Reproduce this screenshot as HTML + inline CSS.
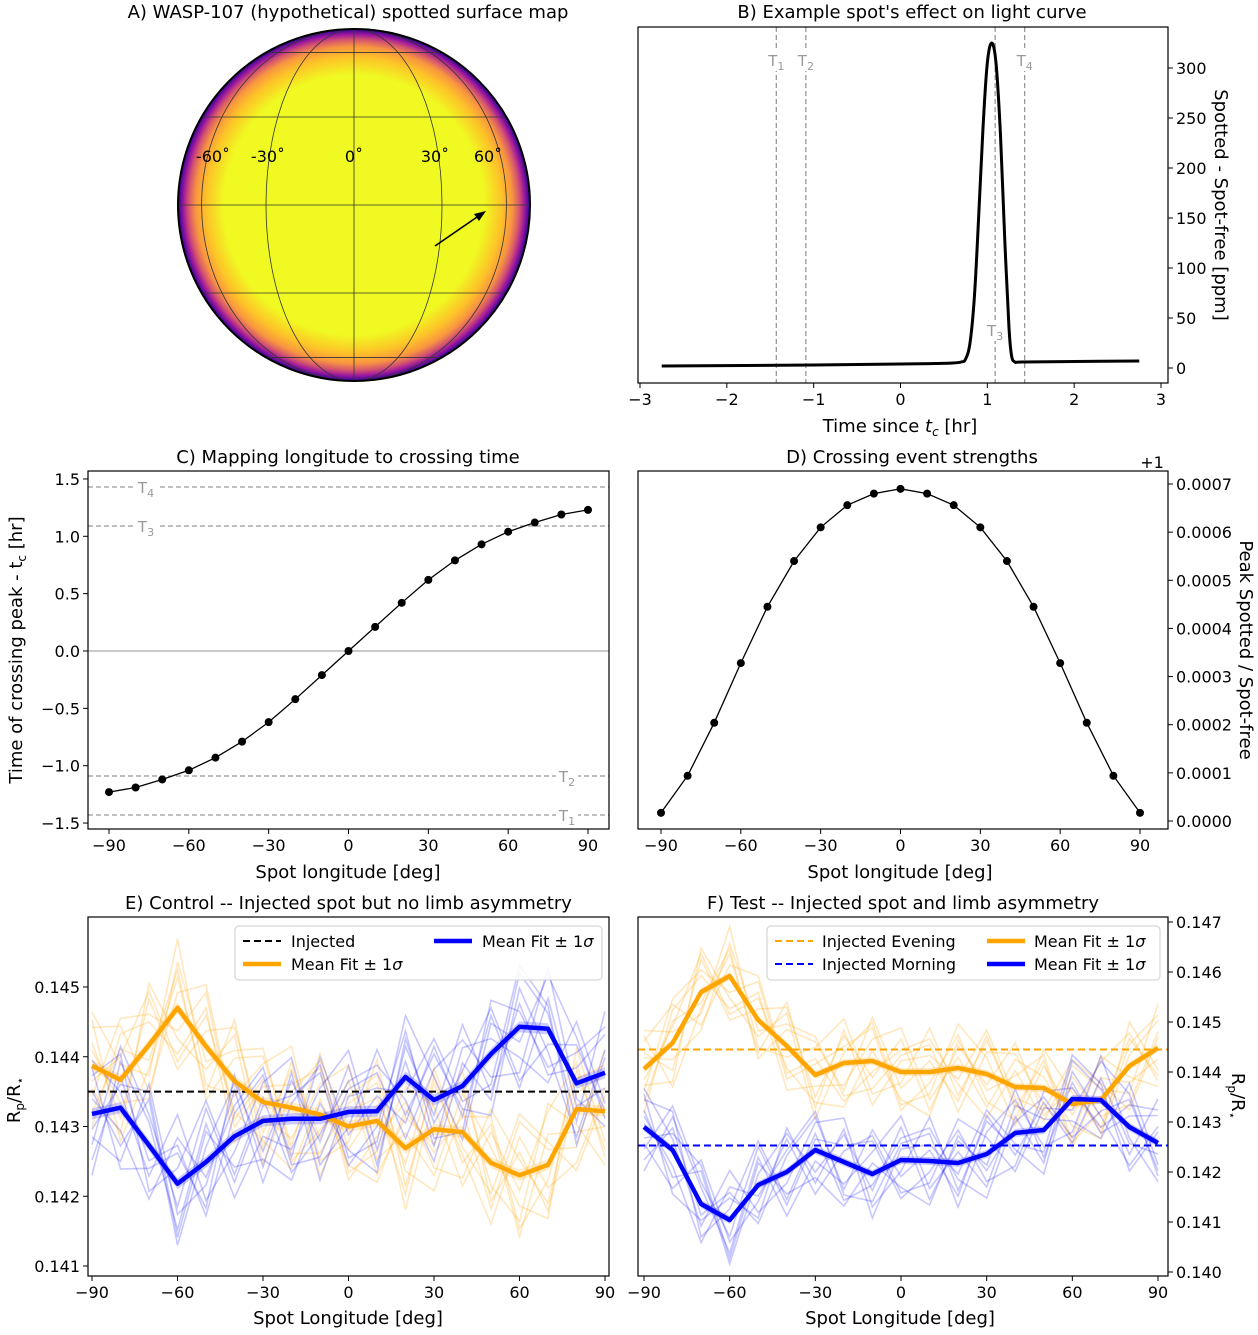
<!DOCTYPE html>
<html><head><meta charset="utf-8"><style>
body{margin:0;background:#fff}
svg text{font-family:"DejaVu Sans","Liberation Sans",sans-serif;fill:#000}
</style></head><body>
<svg id="fig" width="1258" height="1330" viewBox="0 0 1258 1330" xmlns="http://www.w3.org/2000/svg">
<defs>
<radialGradient id="limb" cx="50%" cy="50%" r="50%">
<stop offset="0" stop-color="#f0f921"/><stop offset="0.74" stop-color="#f0f921"/>
<stop offset="0.84" stop-color="#fdc328"/><stop offset="0.9" stop-color="#f89540"/>
<stop offset="0.94" stop-color="#d5546e"/><stop offset="0.97" stop-color="#9c179e"/>
<stop offset="1" stop-color="#2a0593"/></radialGradient>
<clipPath id="ce"><rect x="88" y="917" width="521" height="359"/></clipPath>
<clipPath id="cf"><rect x="638" y="917" width="530" height="359"/></clipPath>
</defs>
<g id="root"></g>
</svg>
<script>
// ---- data ----
const lons=[-90,-80,-70,-60,-50,-40,-30,-20,-10,0,10,20,30,40,50,60,70,80,90];
const bTimes=[-2.75,-1.0,0,0.4,0.6,0.7,0.75,0.8,0.85,0.9,0.95,1.0,1.05,1.1,1.15,1.2,1.25,1.28,1.32,1.4,2.0,2.75];
const bValues=[2,3,4,4.5,5,6,9,25,70,150,240,305,325,305,235,130,40,12,6,6,6.5,7];
const cValues=[-1.23,-1.19,-1.12,-1.04,-0.93,-0.79,-0.62,-0.42,-0.21,0,0.21,0.42,0.62,0.79,0.93,1.04,1.12,1.19,1.23];
const dValues=[0.17,0.94,2.04,3.28,4.45,5.4,6.1,6.56,6.8,6.9,6.8,6.56,6.1,5.4,4.45,3.28,2.04,0.94,0.17];
const eOrange=[0.14387,0.14367,0.14417,0.1447,0.14415,0.14365,0.14335,0.14327,0.14317,0.1430,0.14308,0.14269,0.14296,0.14292,0.14248,0.1423,0.14245,0.14325,0.14322];
const eBlue=[0.14318,0.14327,0.14273,0.14218,0.14249,0.14286,0.14308,0.14311,0.14311,0.14321,0.14322,0.14371,0.14338,0.14358,0.14404,0.14443,0.1444,0.14362,0.14377];
const eInjected=0.1435;
const fOrange=[0.14406,0.14458,0.1456,0.14592,0.14504,0.14452,0.14394,0.14418,0.14422,0.144,0.144,0.14408,0.14396,0.1437,0.14368,0.14336,0.14344,0.14412,0.14448];
const fBlue=[0.1429,0.14244,0.14136,0.14104,0.14174,0.142,0.14244,0.1422,0.14196,0.14224,0.14222,0.14218,0.14236,0.14278,0.14284,0.14346,0.14344,0.1429,0.14258];
const fEvening=0.14445, fMorning=0.14253;
const offsets=[
[3,-5,6,-8,2,7,-4,5,-3,6,-7,4,-2,8,-5,3,-6,2,5],
[-6,4,-2,5,-7,3,6,-5,8,-3,2,-6,7,-4,5,-8,4,-3,-2],
[5,7,-6,2,8,-5,3,-7,-2,4,6,-3,-8,3,-6,7,2,-5,8],
[-3,-7,8,-4,-3,6,-8,2,7,-6,-4,8,3,-7,4,-2,7,6,-6],
[7,2,-4,9,-5,-2,5,8,-6,-2,8,-5,6,-3,-8,5,-3,-7,3],
[-8,6,3,-6,5,-8,-2,-4,4,8,-5,2,-6,5,2,-4,-7,8,-4],
[2,-3,-7,6,-2,4,7,-6,-5,3,5,-8,4,6,-3,-6,8,-2,-7],
[-4,8,4,-3,7,-6,2,3,6,-7,-2,6,-5,-6,7,2,-5,4,6],
[6,-8,-3,4,-6,8,-6,6,-8,2,3,-2,8,-2,-4,8,3,-8,2],
[-2,3,7,-7,4,-4,-5,-8,2,-5,-8,5,-3,2,6,-7,-2,5,-5]];
const bTicks=[-3,-2,-1,0,1,2,3], bYTicks=[0,50,100,150,200,250,300];
const cXTicks=[-90,-60,-30,0,30,60,90], cYTicks=[-1.5,-1,-0.5,0,0.5,1,1.5];
const dYTicks=[0,1,2,3,4,5,6,7];
const eYTicks=[0.141,0.142,0.143,0.144,0.145], fYTicks=[0.140,0.141,0.142,0.143,0.144,0.145,0.146,0.147];

const NS="http://www.w3.org/2000/svg", root=document.getElementById('root');
function el(tag,attrs,parent){const e=document.createElementNS(NS,tag);for(const k in attrs)e.setAttribute(k,attrs[k]);(parent||root).appendChild(e);return e;}
function txt(x,y,s,size,anchor,parent,rot){const t=el('text',{x:x,y:y,'font-size':size,'text-anchor':anchor||'middle'},parent);if(rot)t.setAttribute('transform','rotate('+rot+' '+x+' '+y+')');t.innerHTML=s;return t;}
function lin(d0,d1,r0,r1){return v=>r0+(v-d0)*(r1-r0)/(d1-d0);}
function path(pts){return pts.map((p,i)=>(i?'L':'M')+p[0].toFixed(1)+' '+p[1].toFixed(1)).join(' ');}
function smooth(pts){let d='M'+pts[0][0]+' '+pts[0][1];for(let i=0;i<pts.length-1;i++){const p0=pts[i-1]||pts[i],p1=pts[i],p2=pts[i+1],p3=pts[i+2]||p2;
 d+=' C'+(p1[0]+(p2[0]-p0[0])/6).toFixed(1)+' '+(p1[1]+(p2[1]-p0[1])/6).toFixed(1)+' '+(p2[0]-(p3[0]-p1[0])/6).toFixed(1)+' '+(p2[1]-(p3[1]-p1[1])/6).toFixed(1)+' '+p2[0].toFixed(1)+' '+p2[1].toFixed(1);}return d;}
function frame(x,y,w,h,name){const r=el('rect',{x:x,y:y,width:w,height:h,fill:'none',stroke:'#000','stroke-width':1.2});}
function xticks(vals,sx,yb,fmt){vals.forEach(v=>{el('line',{x1:sx(v),x2:sx(v),y1:yb,y2:yb+5,stroke:'#000'});const t=txt(sx(v),yb+22,fmt(v),16);});}
function yticks(vals,sy,xe,side,fmt){vals.forEach(v=>{const d=side==='l'?-5:5;el('line',{x1:xe,x2:xe+d,y1:sy(v),y2:sy(v),stroke:'#000'});const t=txt(xe+(side==='l'?-8:8),sy(v)+6,fmt(v),16,side==='l'?'end':'start');});}
const minus=s=>String(s).replace('-','\u2212');

// ---- A: sphere ----
(function(){const g=el('g',{});
const cx=354,cy=205,R=176;
txt(348,18,'A) WASP-107 (hypothetical) spotted surface map',18,'middle',g);
el('circle',{cx:cx,cy:cy,r:R,fill:'url(#limb)'},g);
[-60,-30,0,30,60].forEach(l=>{const y=cy-R*Math.sin(l*Math.PI/180),hw=R*Math.cos(l*Math.PI/180);el('line',{x1:cx-hw,x2:cx+hw,y1:y,y2:y,stroke:'#333','stroke-width':0.8},g);});
[30,60].forEach(l=>{el('ellipse',{cx:cx,cy:cy,rx:R*Math.sin(l*Math.PI/180),ry:R,fill:'none',stroke:'#333','stroke-width':0.8},g);});
el('line',{x1:cx,x2:cx,y1:cy-R,y2:cy+R,stroke:'#333','stroke-width':0.8},g);
el('circle',{cx:cx,cy:cy,r:R,fill:'none',stroke:'#000','stroke-width':2},g);
[[-60,213],[-30,268],[0,354],[30,435],[60,488]].forEach(a=>txt(a[1],162,String(a[0])+'\u02da',16,'middle',g));
el('line',{x1:435,y1:246,x2:480,y2:215,stroke:'#000','stroke-width':1.6},g);
el('path',{d:'M486 211 L474 214 L479 221 Z',fill:'#000'},g);})();

// ---- B ----
(function(){const sx=lin(-3,3,640,1161),sy=lin(0,300,368,68);
txt(912,18,"B) Example spot's effect on light curve",18);
[[-1.43,'T<tspan font-size="11" dy="4">1</tspan>'],[-1.09,'T<tspan font-size="11" dy="4">2</tspan>'],[1.09,'T<tspan font-size="11" dy="4">3</tspan>'],[1.43,'T<tspan font-size="11" dy="4">4</tspan>']].forEach((t,i)=>{
 const l=el('line',{x1:sx(t[0]),x2:sx(t[0]),y1:27,y2:383,stroke:'#999','stroke-dasharray':'5,3','stroke-width':1.3});
 el('rect',{x:sx(t[0])-10,y:(i==2?336:66)-15,width:20,height:20,fill:'#fff'});
 const tt=txt(sx(t[0]),i==2?336:66,t[1],15);tt.style.fill='#999';});
const p=el('path',{d:smooth(bTimes.map((t,i)=>[sx(t),sy(bValues[i])])),fill:'none',stroke:'#000','stroke-width':3,'stroke-linejoin':'round'});

frame(638,27,530,356,'panel-b-axes');
xticks(bTicks,sx,383,v=>minus(v));yticks(bYTicks,sy,1168,'r',v=>v);
txt(900,432,'Time since <tspan font-style="italic">t</tspan><tspan font-size="12" dy="4" font-style="italic">c</tspan><tspan dy="-4"> [hr]</tspan>',18);
txt(1215,205,'Spotted - Spot-free [ppm]',18,'middle',null,90);})();

// ---- C ----
(function(){const sx=lin(-90,90,109,588),sy=lin(0,1,651,536.3);
txt(348,463,'C) Mapping longitude to crossing time',18);
el('line',{x1:88,x2:609,y1:sy(0),y2:sy(0),stroke:'#aaa','stroke-width':1.3});
[[1.43,'T<tspan font-size="11" dy="4">4</tspan>',146],[1.09,'T<tspan font-size="11" dy="4">3</tspan>',146],[-1.09,'T<tspan font-size="11" dy="4">2</tspan>',567],[-1.43,'T<tspan font-size="11" dy="4">1</tspan>',567]].forEach(t=>{
 el('line',{x1:88,x2:609,y1:sy(t[0]),y2:sy(t[0]),stroke:'#999','stroke-dasharray':'5,3','stroke-width':1.2});
 el('rect',{x:t[2]-11,y:sy(t[0])-9,width:22,height:18,fill:'#fff'});
 const tt=txt(t[2],sy(t[0])+6,t[1],15);tt.style.fill='#999';});
const pts=lons.map((l,i)=>[sx(l),sy(cValues[i])]);
el('path',{d:path(pts),fill:'none',stroke:'#000','stroke-width':1.3});
pts.forEach(p=>{const c=el('circle',{cx:p[0],cy:p[1],r:4,fill:'#000'});});
frame(88,471,521,358,'panel-c-axes');
xticks(cXTicks,sx,829,v=>minus(v));yticks(cYTicks,sy,88,'l',v=>minus(v.toFixed(1)));
txt(348,878,'Spot longitude [deg]',18);
txt(22,650,'Time of crossing peak - t<tspan font-size="12" dy="4">c</tspan><tspan dy="-4"> [hr]</tspan>',18,'middle',null,-90);})();

// ---- D ----
(function(){const sx=lin(-90,90,661,1140),sy=lin(0,7,821,484);
txt(912,463,'D) Crossing event strengths',18);
const pts=lons.map((l,i)=>[sx(l),sy(dValues[i])]);
el('path',{d:path(pts),fill:'none',stroke:'#000','stroke-width':1.3});
pts.forEach(p=>{const c=el('circle',{cx:p[0],cy:p[1],r:4,fill:'#000'});});
frame(638,471,530,358,'panel-d-axes');
xticks(cXTicks,sx,829,v=>minus(v));yticks(dYTicks,sy,1168,'r',v=>(v/10000).toFixed(4));
txt(1152,468,'+1',16);
txt(900,878,'Spot longitude [deg]',18);
txt(1240,650,'Peak Spotted / Spot-free',18,'middle',null,90);})();

// ---- E / F ----
function fitPanel(x0,w,sx,sy,orange,blue,clip,title,inj){
 const g=el('g',{'clip-path':'url(#'+clip+')'});
 [[orange,'#ffa500',0],[blue,'#0000ff',3]].forEach(s=>{
  for(let k=0;k<10;k++){const o=offsets[(k+s[2])%10];
   const l=el('path',{d:path(lons.map((lo,i)=>[sx(lo),sy(s[0][i]+o[i]*0.00011)])),fill:'none',stroke:s[1],'stroke-opacity':s[1]=='#ffa500'?0.25:0.22,'stroke-width':1.6},g);
   }
  const up=lons.map((lo,i)=>[sx(lo),sy(s[0][i]+0.00008)]),dn=lons.map((lo,i)=>[sx(lo),sy(s[0][i]-0.00008)]).reverse();
  el('path',{d:path(up.concat(dn))+'Z',fill:s[1],'fill-opacity':0.2},g);});
 inj.forEach(j=>{const l=el('line',{x1:x0,x2:x0+w,y1:sy(j[0]),y2:sy(j[0]),stroke:j[1],'stroke-dasharray':'7,4','stroke-width':2},g);});
 [[orange,'#ffa500','mean-fit-evening'],[blue,'#0000ff','mean-fit-morning']].forEach(s=>{
  const l=el('path',{d:path(lons.map((lo,i)=>[sx(lo),sy(s[0][i])])),fill:'none',stroke:s[1],'stroke-width':4.5,'stroke-linejoin':'round'},g);
  });
 txt(x0+w/2,909,title,18);
}
(function(){const sx=lin(-90,90,92,605),sy=lin(0.145,0.141,987,1266);
fitPanel(88,521,sx,sy,eOrange,eBlue,'ce','E) Control -- Injected spot but no limb asymmetry',[[eInjected,'#000']]);
const lg=el('g',{});
el('rect',{x:235,y:926,width:367,height:54,rx:4,fill:'#fff','fill-opacity':0.85,stroke:'#ccc'},lg);
el('line',{x1:243,x2:281,y1:941,y2:941,stroke:'#000','stroke-dasharray':'7,4','stroke-width':2},lg);txt(291,947,'Injected',16,'start',lg);
el('line',{x1:243,x2:281,y1:964,y2:964,stroke:'#ffa500','stroke-width':4.5},lg);txt(291,970,'Mean Fit \u00b1 1<tspan font-style="italic">σ</tspan>',16,'start',lg);
el('line',{x1:434,x2:472,y1:941,y2:941,stroke:'#0000ff','stroke-width':4.5},lg);txt(482,947,'Mean Fit \u00b1 1<tspan font-style="italic">σ</tspan>',16,'start',lg);
frame(88,917,521,359,'panel-e-axes');
xticks(cXTicks,sx,1276,v=>minus(v));yticks(eYTicks,sy,88,'l',v=>v.toFixed(3));
txt(348,1324,'Spot Longitude [deg]',18);
txt(20,1100,'R<tspan font-size="12" dy="4">p</tspan><tspan dy="-4">/R</tspan><tspan font-size="12" dy="4">⋆</tspan>',18,'middle',null,-90);})();
(function(){const sx=lin(-90,90,644,1158),sy=lin(0.147,0.140,922,1272);
fitPanel(638,530,sx,sy,fOrange,fBlue,'cf','F) Test -- Injected spot and limb asymmetry',[[fEvening,'#ffa500'],[fMorning,'#0000ff']]);
const lg=el('g',{});
el('rect',{x:767,y:926,width:393,height:54,rx:4,fill:'#fff','fill-opacity':0.85,stroke:'#ccc'},lg);
el('line',{x1:775,x2:813,y1:941,y2:941,stroke:'#ffa500','stroke-dasharray':'7,4','stroke-width':2},lg);txt(822,947,'Injected Evening',16,'start',lg);
el('line',{x1:775,x2:813,y1:964,y2:964,stroke:'#0000ff','stroke-dasharray':'7,4','stroke-width':2},lg);txt(822,970,'Injected Morning',16,'start',lg);
el('line',{x1:987,x2:1025,y1:941,y2:941,stroke:'#ffa500','stroke-width':4.5},lg);txt(1034,947,'Mean Fit \u00b1 1<tspan font-style="italic">σ</tspan>',16,'start',lg);
el('line',{x1:987,x2:1025,y1:964,y2:964,stroke:'#0000ff','stroke-width':4.5},lg);txt(1034,970,'Mean Fit \u00b1 1<tspan font-style="italic">σ</tspan>',16,'start',lg);
frame(638,917,530,359,'panel-f-axes');
xticks(cXTicks,sx,1276,v=>minus(v));yticks(fYTicks,sy,1168,'r',v=>v.toFixed(3));
txt(900,1324,'Spot Longitude [deg]',18);
txt(1232,1096,'R<tspan font-size="12" dy="4">p</tspan><tspan dy="-4">/R</tspan><tspan font-size="12" dy="4">⋆</tspan>',18,'middle',null,90);})();
</script>
</body></html>
